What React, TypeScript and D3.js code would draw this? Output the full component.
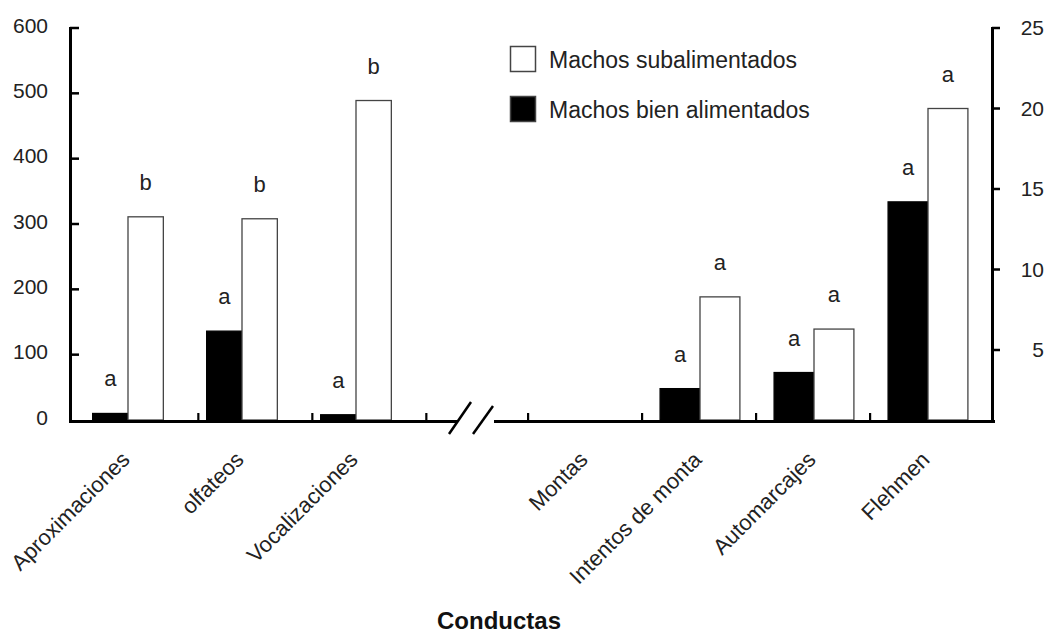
import React from 'react';
import * as d3 from 'd3';

// ---- data ----
const leftCats = ['Aproximaciones', 'olfateos', 'Vocalizaciones'];
const rightCats = ['Montas', 'Intentos de monta', 'Automarcajes', 'Flehmen'];
const seriesNames = ['Machos subalimentados', 'Machos bien alimentados'];
const leftSub = [311, 308, 489];
const leftBien = [10, 136, 8];
const rightSub = [0, 8.3, 6.3, 20.0];
const rightBien = [0, 2.6, 3.6, 14.2];
const leftSigSub = ['b', 'b', 'b'];
const leftSigBien = ['a', 'a', 'a'];
const rightSigSub = ['', 'a', 'a', 'a'];
const rightSigBien = ['', 'a', 'a', 'a'];
const leftTicks = [0, 100, 200, 300, 400, 500, 600];
const rightTicks = [5, 10, 15, 20, 25];
const xTitle = 'Conductas';

const W = 1050;
const H = 637;
const BASE = 420;
const FONT = '"Liberation Sans", Arial, sans-serif';
const TXT = '#222';

export default function App() {
  const yL = d3.scaleLinear().domain([0, 600]).range([BASE, 28]);
  const yR = d3.scaleLinear().domain([0, 25]).range([430.5, 28]);
  const xL = d3.scaleBand<string>().domain(leftCats).range([71, 413]).paddingInner(0.38).paddingOuter(0.19);
  const xR = d3.scaleBand<string>().domain(rightCats).range([529, 985]).paddingInner(0.3).paddingOuter(0.15);
  const innerL = d3.scaleBand<string>().domain(['bien', 'sub']).range([0, xL.bandwidth()]);
  const innerR = d3.scaleBand<string>().domain(['bien', 'sub']).range([0, xR.bandwidth()]);

  type Grp = {
    cats: string[]; x: d3.ScaleBand<string>; inner: d3.ScaleBand<string>;
    y: d3.ScaleLinear<number, number>; sub: number[]; bien: number[];
    sigSub: string[]; sigBien: string[];
  };
  const groups: Grp[] = [
    { cats: leftCats, x: xL, inner: innerL, y: yL, sub: leftSub, bien: leftBien, sigSub: leftSigSub, sigBien: leftSigBien },
    { cats: rightCats, x: xR, inner: innerR, y: yR, sub: rightSub, bien: rightBien, sigSub: rightSigSub, sigBien: rightSigBien },
  ];

  const bars: React.ReactNode[] = [];
  const letters: React.ReactNode[] = [];
  groups.forEach((g, gi) => {
    g.cats.forEach((c, i) => {
      const x0 = g.x(c)!;
      const items = [
        { key: 'bien', v: g.bien[i], sig: g.sigBien[i], fill: '#000', stroke: '#000' },
        { key: 'sub', v: g.sub[i], sig: g.sigSub[i], fill: '#fff', stroke: '#444' },
      ];
      items.forEach((it) => {
        const bx = x0 + g.inner(it.key)!;
        const bw = g.inner.bandwidth();
        const top = Math.min(BASE, g.y(it.v));
        const h = BASE - top;
        if (h > 0) {
          bars.push(
            <rect key={`b${gi}-${i}-${it.key}`} x={bx} y={top} width={bw} height={h}
              fill={it.fill} stroke={it.stroke} strokeWidth={1.3} />
          );
        }
        if (it.sig) {
          letters.push(
            <text key={`l${gi}-${i}-${it.key}`} x={bx + bw / 2} y={top - 27} textAnchor="middle"
              fontSize={22} fontFamily={FONT} fill={TXT}>{it.sig}</text>
          );
        }
      });
    });
  });

  const catTicks: number[] = [
    ...leftCats.map((c) => xL(c)! + xL.bandwidth() + 35),
    ...rightCats.map((c) => xR(c)! - 18),
  ];

  const labels = [
    ...leftCats.map((c) => ({ c, x: xL(c)! + xL.bandwidth() / 2 + 3 })),
    ...rightCats.map((c) => ({ c, x: xR(c)! + xR.bandwidth() / 2 + 3 })),
  ];

  return (
    <svg width={W} height={H} style={{ position: 'absolute', left: 0, top: 0, background: '#fff' }}>
      <rect x={0} y={0} width={W} height={H} fill="#fff" />
      {bars}
      {letters}

      {/* left axis */}
      <line x1={70.5} y1={27} x2={70.5} y2={423} stroke="#000" strokeWidth={3} />
      {leftTicks.filter((t) => t > 0).map((t) => (
        <line key={`lt${t}`} x1={70} x2={79} y1={yL(t)} y2={yL(t)} stroke="#000" strokeWidth={2.5} />
      ))}
      {leftTicks.map((t) => (
        <text key={`ll${t}`} x={48} y={yL(t) + 4.5} textAnchor="end" fontSize={21} fontFamily={FONT} fill={TXT}>{t}</text>
      ))}

      {/* right axis */}
      <line x1={992.5} y1={27} x2={992.5} y2={423} stroke="#000" strokeWidth={3} />
      {rightTicks.map((t) => (
        <line key={`rt${t}`} x1={992} x2={1000} y1={yR(t)} y2={yR(t)} stroke="#000" strokeWidth={2.5} />
      ))}
      {rightTicks.map((t) => (
        <text key={`rl${t}`} x={1044} y={yR(t) + 7} textAnchor="end" fontSize={21} fontFamily={FONT} fill={TXT}>{t}</text>
      ))}

      {/* baseline with break */}
      <line x1={69} x2={458} y1={421.5} y2={421.5} stroke="#000" strokeWidth={3.2} />
      <line x1={494} x2={995} y1={421.5} y2={421.5} stroke="#000" strokeWidth={3.2} />
      <line x1={449} y1={434} x2={471} y2={402} stroke="#000" strokeWidth={2.5} />
      <line x1={473} y1={434} x2={493} y2={406} stroke="#000" strokeWidth={2.5} />
      {catTicks.map((x, i) => (
        <line key={`ct${i}`} x1={x} x2={x} y1={421} y2={413} stroke="#000" strokeWidth={2.2} />
      ))}

      {/* category labels */}
      {labels.map((l) => (
        <text key={`cl${l.c}`} transform={`translate(${l.x},461) rotate(-45)`} textAnchor="end"
          fontSize={22} fontFamily={FONT} fill={TXT}>{l.c}</text>
      ))}

      {/* axis title */}
      <text x={499} y={629} textAnchor="middle" fontSize={24} fontWeight="bold" fontFamily={FONT} fill="#111">{xTitle}</text>

      {/* legend */}
      <rect x={510.5} y={46.5} width={25} height={25} fill="#fff" stroke="#444" strokeWidth={1.5} />
      <text x={549} y={68} fontSize={23} fontFamily={FONT} fill={TXT}>{seriesNames[0]}</text>
      <rect x={510.5} y={96.5} width={25} height={25} fill="#000" stroke="#444" strokeWidth={1.5} />
      <text x={549} y={118} fontSize={23} fontFamily={FONT} fill={TXT}>{seriesNames[1]}</text>
    </svg>
  );
}
